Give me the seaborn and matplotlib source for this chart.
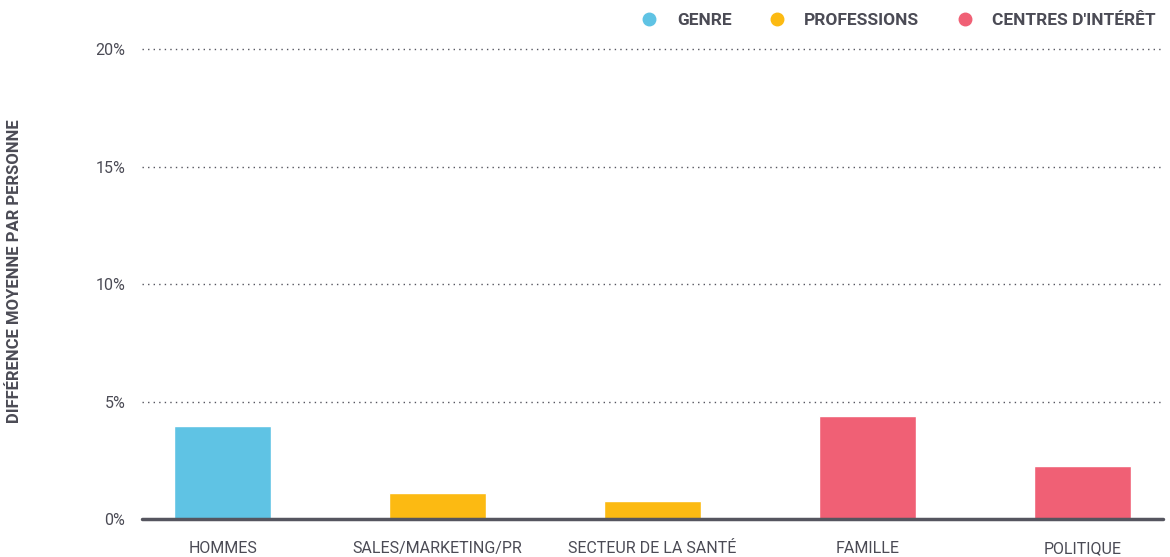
import pandas as pd
import matplotlib.pyplot as plt
import seaborn as sns
from matplotlib.lines import Line2D

# Data
categories = ["HOMMES", "SALES/MARKETING/PR", "SECTEUR DE LA SANTÉ", "FAMILLE", "POLITIQUE"]
values = [3.95, 1.1, 0.77, 4.38, 2.26]
groups = ["GENRE", "PROFESSIONS", "PROFESSIONS", "CENTRES D'INTÉRÊT", "CENTRES D'INTÉRÊT"]
group_order = ["GENRE", "PROFESSIONS", "CENTRES D'INTÉRÊT"]
palette = {"GENRE": "#5FC3E4", "PROFESSIONS": "#FCBA12", "CENTRES D'INTÉRÊT": "#F06075"}
y_ticks = [0, 5, 10, 15, 20]

df = pd.DataFrame({"category": categories, "value": values, "group": groups})

sns.set_style("white")
plt.rcParams['font.family'] = ['Roboto', 'DejaVu Sans']
text_color = "#4B4B55"

fig = plt.figure(figsize=(11.7, 5.57), dpi=100)
ax = fig.add_axes([0.1214, 0.0682, 0.8726, 0.8438])

sns.barplot(data=df, x="category", y="value", hue="group", hue_order=group_order,
            palette=palette, dodge=False, width=0.45, saturation=1, ax=ax, legend=False)

ax.set_xlim(-0.375, 4.375)
ax.set_ylim(0, 20)
ax.set_yticks(y_ticks)
ax.set_yticklabels([f"{t}%" for t in y_ticks], fontsize=11.5, color=text_color)
ax.tick_params(axis='x', labelsize=11.5, labelcolor=text_color, length=0, pad=21)
ax.tick_params(axis='y', length=0, pad=12)
for lbl in ax.get_xticklabels():
    lbl.set_va('center')

# dotted grid lines
for t in y_ticks[1:]:
    ax.axhline(t, color="#55555f", linestyle=(0, (1, 3)), linewidth=1, zorder=0, clip_on=False)
ax.axhline(0, color="#55555f", linewidth=2.5, zorder=3, clip_on=False)

for s in ax.spines.values():
    s.set_visible(False)

ax.set_xlabel("")
ax.set_ylabel("DIFFÉRENCE MOYENNE PAR PERSONNE", fontsize=12, fontweight='bold',
              color=text_color)
ax.yaxis.set_label_coords(-0.1175, 0.528)

handles = [Line2D([0], [0], marker='o', linestyle='', markersize=9,
                  markerfacecolor=palette[g], markeredgecolor=palette[g]) for g in group_order]
leg = ax.legend(handles, group_order, loc='lower right', bbox_to_anchor=(1.0, 1.03),
                ncol=3, frameon=False, handletextpad=0.6, columnspacing=1.6,
                borderaxespad=0, prop={'weight': 'bold', 'size': 12.5})
for txt in leg.get_texts():
    txt.set_color(text_color)

fig.savefig("out.png", dpi=100)
